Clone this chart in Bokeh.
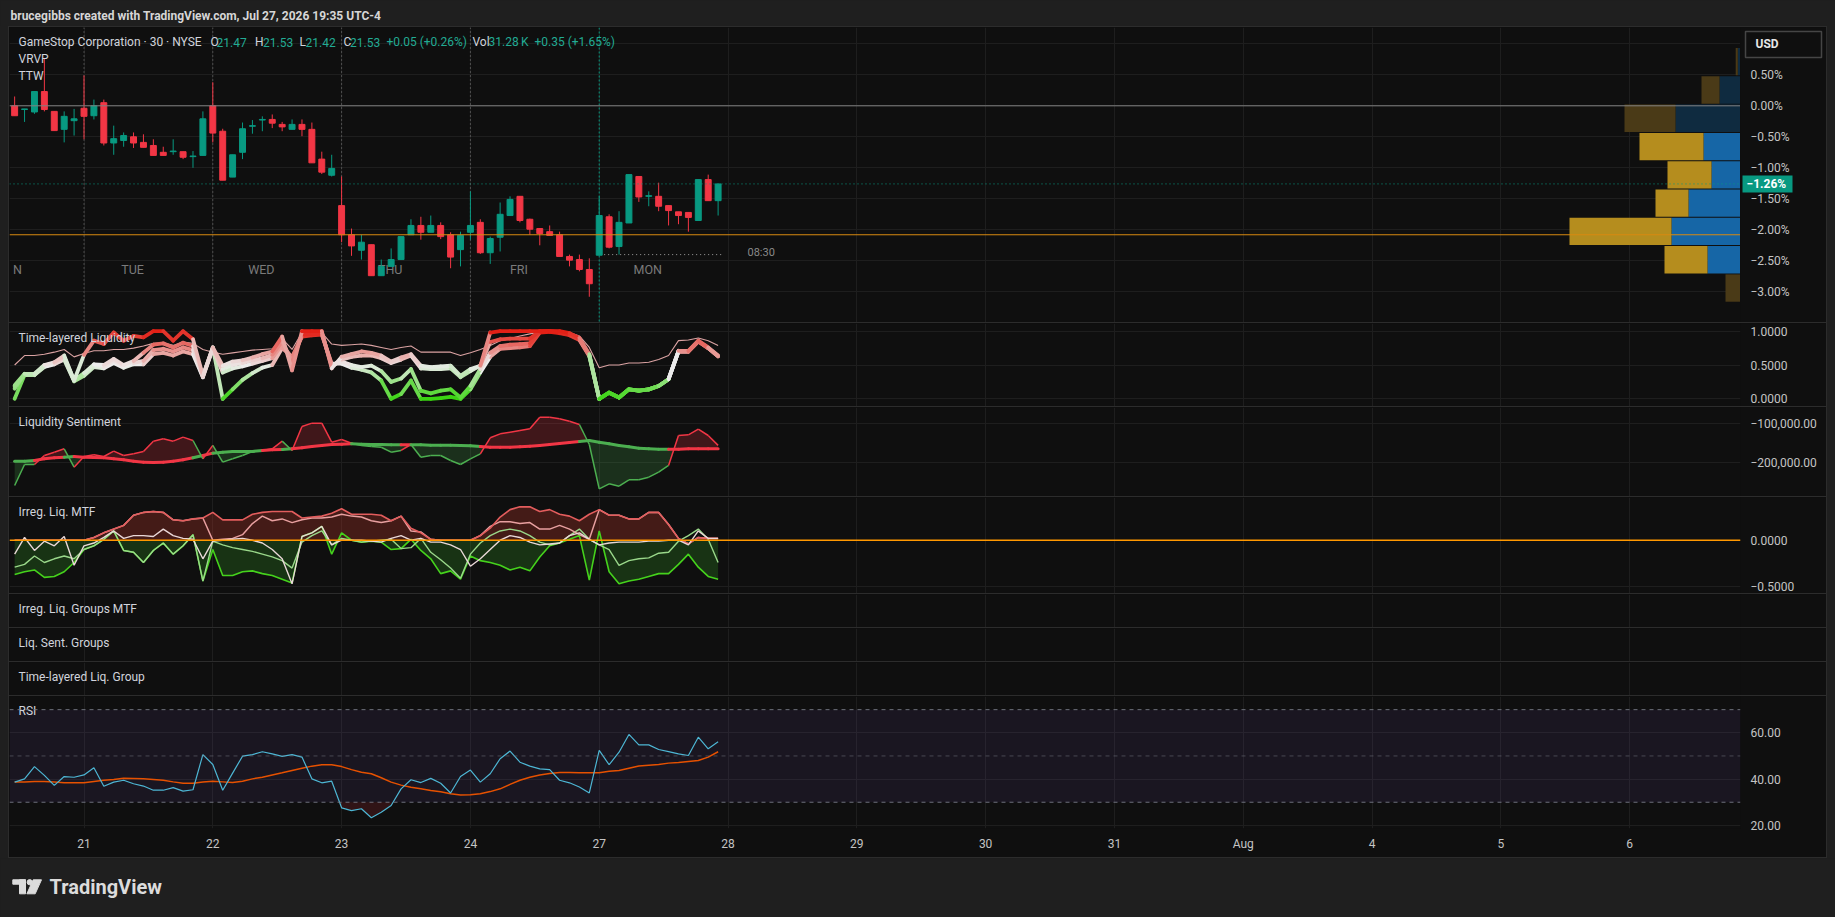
import numpy as np
from bokeh.plotting import figure
from bokeh.models import (Range1d, LinearAxis, FixedTicker, Grid, Span,
                          ColumnDataSource, BoxAnnotation, Spacer)
from bokeh.layouts import column, row
from bokeh.embed import file_html
from bokeh.resources import INLINE
from bokeh.core.properties import value
from bokeh.transform import linear_cmap

# ======================= DATA =======================
bar_index = list(range(-7, 65))          # 30-min bars, 0 = Jul 21 09:30
day_ticks = [0, 13, 26, 39, 52, 65, 78, 91, 104, 117, 130, 143, 156]
day_labels = ["21", "22", "23", "24", "27", "28", "29", "30", "31", "Aug", "4", "5", "6"]
session_starts = [0, 13, 26, 39, 52]
weekday_labels = ["TUE", "WED", "THU", "FRI", "MON"]
first_weekday_tail = "N"      # only the last letter of "MON" (Jul 20) is inside the chart

open_pct = [0.00, -0.06, -0.10, 0.23, -0.09, -0.38, -0.24,
            -0.04, -0.16, 0.05, -0.60, -0.56, -0.50, -0.59, -0.64, -0.75, -0.74, -0.74, -0.82, -0.80,
            0.00, -0.41, -1.15, -0.75, -0.33, -0.23, -0.22, -0.30, -0.38, -0.30, -0.38, -0.86, -1.12,
            -1.61, -2.08, -2.33, -2.24, -2.74, -2.59, -2.48, -2.08, -1.93, -2.04, -1.93, -2.08, -2.32,
            -2.04, -1.88, -2.37, -2.12, -1.77, -1.46, -1.83, -1.98, -2.03, -2.08, -2.43, -2.48, -2.64,
            -2.41, -1.79, -2.27, -1.89, -1.14, -1.46, -1.46, -1.61, -1.71, -1.72, -1.85, -1.19, -1.53]
high_pct = [0.15, -0.05, 0.23, 0.76, -0.09, -0.09, -0.05,
            0.49, 0.10, 0.10, -0.32, -0.43, -0.43, -0.46, -0.54, -0.66, -0.54, -0.74, -0.73, -0.09,
            0.38, -0.37, -0.79, -0.27, -0.23, -0.17, -0.14, -0.26, -0.22, -0.22, -0.27, -0.74, -0.79,
            -1.14, -1.98, -2.08, -2.24, -2.48, -2.30, -2.11, -1.83, -1.79, -1.77, -1.88, -2.04, -2.03,
            -1.38, -1.83, -2.11, -1.56, -1.46, -1.46, -1.82, -1.98, -1.93, -2.03, -2.40, -2.40, -2.46,
            -1.46, -1.75, -1.70, -1.11, -1.14, -1.38, -1.24, -1.61, -1.71, -1.72, -1.19, -1.11, -1.26]
low_pct = [-0.16, -0.26, -0.13, -0.09, -0.40, -0.59, -0.48,
           -0.54, -0.22, -0.64, -0.79, -0.66, -0.68, -0.67, -0.80, -0.80, -0.79, -0.86, -1.00, -0.80,
           -0.59, -1.20, -1.15, -0.86, -0.45, -0.41, -0.36, -0.41, -0.38, -0.49, -0.92, -1.10, -1.14,
           -2.20, -2.42, -2.48, -2.74, -2.74, -2.59, -2.48, -2.08, -2.16, -2.04, -2.15, -2.62, -2.59,
           -2.16, -2.39, -2.55, -2.35, -1.77, -1.88, -2.08, -2.25, -2.09, -2.43, -2.59, -2.67, -3.08,
           -2.41, -2.30, -2.40, -1.89, -1.55, -1.62, -1.70, -1.93, -1.91, -2.03, -1.85, -1.53, -1.77]
close_pct = [-0.16, -0.05, 0.23, -0.06, -0.40, -0.17, -0.21,
             -0.17, 0.00, -0.60, -0.53, -0.48, -0.60, -0.67, -0.80, -0.80, -0.73, -0.83, -0.81, -0.21,
             -0.44, -1.20, -0.79, -0.37, -0.32, -0.22, -0.28, -0.34, -0.30, -0.38, -0.92, -1.07, -1.01,
             -2.08, -2.26, -2.20, -2.74, -2.59, -2.48, -2.11, -1.93, -2.04, -1.93, -2.11, -2.44, -2.09,
             -1.93, -2.37, -2.14, -1.75, -1.51, -1.85, -1.99, -2.06, -2.09, -2.43, -2.49, -2.64, -2.87,
             -1.77, -2.28, -1.88, -1.11, -1.47, -1.45, -1.62, -1.69, -1.77, -1.80, -1.19, -1.53, -1.26]

price_ticks = [0.5, 0.0, -0.5, -1.0, -1.5, -2.0, -2.5, -3.0]
price_tick_labels = ["0.50%", "0.00%", "\u22120.50%", "\u22121.00%", "\u22121.50%",
                     "\u22122.00%", "\u22122.50%", "\u22123.00%"]
price_grid = [1.0, 0.5, 0.0, -0.5, -1.0, -1.5, -2.0, -2.5, -3.0]
baseline_pct = 0.0
poc_pct = -2.08
last_pct = -1.26
last_label = "\u22121.26%"
currency = "USD"
marker_x0, marker_x1, marker_y, marker_text = 52.5, 64.6, -2.40, "08:30"

# Visible-range volume profile (rows top -> bottom)
vp_row_top = [0.932, 0.476, 0.019, -0.437, -0.894, -1.350, -1.806, -2.263, -2.719]
vp_row_bottom = [0.492, 0.035, -0.421, -0.878, -1.334, -1.790, -2.247, -2.703, -3.160]
vp_up = [2.7, 21, 65, 37, 29, 52, 69, 33, 0]
vp_down = [2.1, 18, 51, 64, 44, 33, 102, 43, 15]
vp_in_value_area = [False, False, False, True, True, True, True, True, False]

legend_name = "GameStop Corporation \u00b7 30 \u00b7 NYSE"
legend_items = [("O", "21.47"), ("H", "21.53"), ("L", "21.42"), ("C", "21.53")]
legend_change = "+0.05 (+0.26%)"
legend_vol = "31.28\u2009K"
legend_vol_change = "+0.35 (+1.65%)"

# Time-layered Liquidity (0..1)
tl_1 = [0.20, 0.37, 0.37, 0.50, 0.54, 0.64, 0.27,
        0.65, 0.86, 0.81, 0.98, 0.86, 0.93, 0.91, 1.00, 1.00, 0.86, 1.00, 0.88, 0.34,
        0.76, 0.49, 0.55, 0.57, 0.61, 0.66, 0.70, 0.92, 0.42, 1.00, 1.00, 1.00, 0.45,
        0.62, 0.66, 0.70, 0.68, 0.64, 0.55, 0.61, 0.66, 0.49, 0.47, 0.48, 0.49, 0.34,
        0.44, 0.49, 0.98, 1.00, 1.00, 1.00, 1.00, 1.00, 1.00, 1.00, 0.97, 0.90, 0.66,
        0.00, 0.09, 0.02, 0.14, 0.12, 0.14, 0.19, 0.29, 0.71, 0.71, 0.86, 0.76, 0.64]
tl_2 = [0.18, 0.36, 0.36, 0.49, 0.53, 0.62, 0.27,
        0.38, 0.51, 0.50, 0.59, 0.50, 0.56, 0.68, 0.80, 0.82, 0.76, 0.83, 0.78, 0.34,
        0.75, 0.44, 0.50, 0.53, 0.57, 0.60, 0.65, 0.85, 0.55, 0.95, 0.96, 0.98, 0.48,
        0.58, 0.62, 0.64, 0.64, 0.60, 0.53, 0.58, 0.64, 0.45, 0.44, 0.44, 0.45, 0.32,
        0.41, 0.49, 0.84, 0.88, 0.89, 0.89, 0.89, 1.00, 1.00, 0.99, 0.96, 0.89, 0.65,
        0.00, 0.09, 0.02, 0.14, 0.12, 0.14, 0.19, 0.29, 0.70, 0.70, 0.85, 0.75, 0.63]
tl_3 = [0.15, 0.36, 0.36, 0.48, 0.52, 0.60, 0.27,
        0.36, 0.49, 0.47, 0.56, 0.48, 0.53, 0.56, 0.72, 0.74, 0.70, 0.76, 0.72, 0.32,
        0.74, 0.39, 0.45, 0.48, 0.52, 0.56, 0.60, 0.80, 0.60, 0.93, 0.95, 0.96, 0.50,
        0.55, 0.50, 0.47, 0.49, 0.41, 0.25, 0.30, 0.44, 0.12, 0.08, 0.12, 0.14, 0.02,
        0.19, 0.44, 0.68, 0.78, 0.80, 0.81, 0.82, 0.99, 1.00, 0.98, 0.95, 0.88, 0.64,
        0.00, 0.09, 0.02, 0.14, 0.12, 0.14, 0.19, 0.29, 0.70, 0.70, 0.85, 0.75, 0.63]
tl_4 = [0.00, 0.35, 0.35, 0.47, 0.51, 0.58, 0.26,
        0.34, 0.47, 0.45, 0.53, 0.46, 0.51, 0.51, 0.66, 0.68, 0.64, 0.70, 0.66, 0.32,
        0.76, 0.00, 0.14, 0.28, 0.38, 0.46, 0.50, 0.75, 0.62, 0.92, 0.94, 0.95, 0.52,
        0.52, 0.46, 0.43, 0.39, 0.27, 0.00, 0.07, 0.27, 0.00, 0.00, 0.01, 0.03, 0.00,
        0.14, 0.39, 0.62, 0.74, 0.75, 0.76, 0.78, 0.98, 0.99, 0.97, 0.94, 0.87, 0.63,
        0.00, 0.09, 0.02, 0.14, 0.12, 0.14, 0.19, 0.29, 0.70, 0.70, 0.85, 0.75, 0.63]
tl_thin = [0.50, 0.64, 0.64, 0.66, 0.69, 0.73, 0.62,
           0.67, 0.71, 0.71, 0.73, 0.73, 0.75, 0.78, 0.82, 0.83, 0.79, 0.84, 0.82, 0.73,
           0.69, 0.66, 0.68, 0.70, 0.72, 0.73, 0.74, 0.89, 0.73, 0.98, 0.98, 0.98, 0.81,
           0.79, 0.80, 0.81, 0.79, 0.76, 0.73, 0.76, 0.78, 0.69, 0.69, 0.69, 0.69, 0.64,
           0.68, 0.73, 0.79, 0.86, 0.89, 0.93, 0.96, 0.99, 1.00, 1.00, 0.98, 0.93, 0.76,
           0.46, 0.50, 0.50, 0.53, 0.53, 0.54, 0.58, 0.64, 0.86, 0.87, 0.90, 0.86, 0.79]

# Liquidity Sentiment (thousands)
sent_fast_k = [-258.5, -205.1, -205.1, -182.2, -173.7, -165.2, -211.8,
               -184.7, -180.5, -184.7, -171.1, -182.2, -177.9, -172.0, -145.7, -139.8, -145.7, -135.5, -144.0, -190.6,
               -156.5, -199.1, -190.6, -182.2, -172.0, -169.4, -165.2, -145.7, -169.4, -108.4, -99.9, -99.9, -148.3,
               -141.6, -150.9, -156.5, -159.4, -161.1, -173.7, -169.4, -154.2, -186.5, -182.2, -182.2, -195.0, -205.1,
               -190.6, -177.9, -137.2, -127.1, -122.8, -118.6, -114.4, -84.7, -84.7, -88.9, -94.9, -103.3, -154.2,
               -267.0, -254.3, -260.2, -244.1, -244.1, -237.3, -224.6, -207.6, -131.3, -129.6, -115.2, -131.3, -156.5]
sent_slow_k = [-196.6, -196.6, -194.9, -190.6, -188.1, -186.4, -184.7,
               -186.4, -187.3, -188.1, -190.6, -193.2, -196.6, -199.1, -199.9, -199.1, -196.6, -193.2, -188.1, -182.2,
               -176.2, -173.7, -172.0, -172.0, -172.0, -169.4, -167.7, -166.9, -165.2, -162.7, -159.3, -156.8, -154.2,
               -153.4, -152.5, -153.4, -154.2, -154.2, -155.1, -155.1, -155.1, -155.1, -155.9, -155.9, -155.9, -156.8,
               -157.6, -159.3, -161.0, -161.0, -161.0, -160.1, -158.4, -156.8, -154.2, -151.7, -149.1, -146.6, -144.0,
               -148.3, -152.5, -156.8, -160.1, -163.5, -165.2, -166.1, -166.1, -166.1, -165.2, -165.2, -165.2, -165.2]

# Irregular Liquidity MTF
irr_red = [0.00, 0.00, 0.00, 0.00, 0.00, 0.00, 0.00,
           0.00, 0.03, 0.08, 0.12, 0.16, 0.27, 0.30, 0.31, 0.30, 0.22, 0.21, 0.23, 0.24,
           0.30, 0.22, 0.22, 0.22, 0.28, 0.30, 0.31, 0.31, 0.31, 0.24, 0.25, 0.26, 0.29,
           0.34, 0.28, 0.28, 0.28, 0.27, 0.21, 0.26, 0.13, 0.08, 0.01, 0.00, 0.00, 0.00,
           0.00, 0.05, 0.13, 0.25, 0.33, 0.36, 0.36, 0.31, 0.33, 0.28, 0.26, 0.21, 0.28,
           0.33, 0.27, 0.27, 0.23, 0.23, 0.30, 0.30, 0.17, 0.02, -0.04, 0.03, 0.02, 0.02]
irr_pink = [0.00, 0.00, 0.00, 0.00, 0.00, 0.00, 0.00,
            0.00, 0.03, 0.08, 0.12, 0.16, 0.27, 0.30, 0.31, 0.30, 0.22, 0.21, 0.23, 0.24,
            0.00, 0.01, 0.02, 0.06, 0.18, 0.26, 0.21, 0.23, 0.19, 0.22, 0.24, 0.24, 0.25,
            0.28, 0.26, 0.25, 0.21, 0.19, 0.21, 0.26, 0.10, 0.09, 0.01, 0.00, 0.00, 0.00,
            0.00, 0.05, 0.15, 0.20, 0.20, 0.18, 0.19, 0.12, 0.12, 0.16, 0.12, 0.06, 0.01,
            0.33, 0.27, 0.27, 0.23, 0.23, 0.30, 0.30, 0.17, 0.02, -0.04, 0.03, 0.02, 0.02]
irr_white = [-0.15, 0.03, -0.11, -0.01, -0.06, 0.04, -0.27,
             -0.06, -0.03, 0.03, 0.10, 0.02, 0.05, 0.05, 0.04, 0.12, 0.05, 0.02, 0.01, -0.20,
             -0.01, 0.00, 0.01, 0.02, 0.00, -0.03, -0.10, -0.20, -0.47, 0.04, 0.08, 0.15, -0.05,
             0.00, 0.00, 0.00, -0.01, -0.02, 0.02, 0.05, 0.00, 0.02, -0.02, -0.02, -0.05, -0.10,
             -0.28, -0.20, -0.10, 0.00, 0.05, 0.03, -0.02, -0.05, -0.04, -0.03, 0.05, 0.08, 0.01,
             -0.05, -0.03, -0.02, -0.02, -0.02, -0.01, -0.01, 0.00, 0.00, -0.05, 0.10, 0.02, 0.02]
irr_lightgreen = [-0.29, -0.26, -0.17, -0.24, -0.20, -0.17, -0.20,
                  -0.10, -0.06, 0.01, 0.10, -0.11, -0.13, -0.24, -0.11, -0.03, -0.15, -0.06, 0.06, -0.44,
                  -0.01, -0.05, -0.08, -0.10, -0.12, -0.15, -0.18, -0.22, -0.30, -0.02, 0.05, 0.10, -0.05,
                  0.02, 0.00, -0.02, -0.01, 0.00, 0.01, -0.09, -0.08, 0.02, -0.13, -0.21, -0.30, -0.41,
                  -0.15, -0.03, 0.05, 0.10, 0.12, 0.10, 0.05, -0.02, -0.05, -0.03, 0.05, 0.12, 0.01,
                  -0.05, -0.10, -0.27, -0.22, -0.20, -0.19, -0.14, -0.13, -0.01, 0.05, 0.12, 0.01, -0.24]
irr_green = [-0.37, -0.34, -0.32, -0.40, -0.39, -0.34, -0.24,
             -0.10, -0.06, 0.01, 0.10, -0.11, -0.13, -0.24, -0.11, -0.03, -0.15, -0.06, 0.06, -0.44,
             -0.10, -0.38, -0.38, -0.34, -0.33, -0.36, -0.38, -0.42, -0.46, 0.04, 0.08, 0.15, -0.15,
             0.08, 0.00, -0.02, -0.01, -0.02, -0.10, -0.09, 0.01, -0.11, -0.20, -0.36, -0.33, -0.42,
             -0.17, -0.22, -0.24, -0.27, -0.32, -0.29, -0.33, -0.18, -0.06, -0.03, 0.01, 0.05, -0.43,
             0.10, -0.34, -0.47, -0.44, -0.42, -0.39, -0.36, -0.36, -0.26, -0.15, -0.29, -0.39, -0.42]

# RSI (14) and its moving average
rsi = [38.7, 40.1, 45.4, 41.6, 37.3, 41.1, 40.8,
       41.8, 44.9, 36.9, 38.7, 39.5, 38.0, 37.0, 35.2, 35.2, 36.3, 34.8, 35.4, 50.6,
       46.3, 35.2, 42.6, 49.9, 50.6, 51.8, 50.9, 49.8, 50.6, 49.5, 40.1, 38.4, 39.1,
       27.6, 26.4, 27.2, 23.3, 25.7, 28.6, 35.8, 39.7, 38.5, 40.3, 38.2, 34.0, 41.1,
       43.9, 38.7, 42.3, 48.8, 52.1, 47.3, 45.6, 44.4, 44.1, 39.5, 38.4, 36.6, 34.0,
       52.4, 46.2, 51.6, 59.3, 54.8, 54.8, 52.8, 51.9, 50.9, 50.2, 58.1, 53.1, 56.1]
rsi_ma = [38.7, 38.8, 39.0, 39.0, 38.7, 38.4, 38.4,
          38.4, 39.0, 39.5, 39.8, 40.4, 40.3, 40.1, 39.8, 39.5, 38.8, 38.2, 38.2, 38.7,
          39.1, 38.8, 38.5, 39.1, 40.1, 40.8, 41.8, 42.7, 43.7, 44.7, 45.6, 46.2, 46.2,
          45.4, 44.1, 43.0, 42.3, 40.6, 38.7, 37.4, 36.5, 35.8, 35.1, 34.5, 33.7, 33.1,
          33.2, 33.7, 34.6, 35.8, 37.7, 39.5, 40.8, 41.8, 42.4, 42.9, 42.9, 42.7, 42.7,
          42.7, 43.4, 43.7, 44.7, 45.7, 46.0, 46.3, 46.9, 47.2, 47.6, 48.0, 49.5, 51.8]

N = len(bar_index)
for arr in (open_pct, high_pct, low_pct, close_pct, tl_1, tl_2, tl_3, tl_4, tl_thin,
            sent_fast_k, sent_slow_k, irr_red, irr_pink, irr_white, irr_lightgreen, irr_green,
            rsi, rsi_ma):
    assert len(arr) == N, len(arr)

# ======================= STYLE / LAYOUT =======================
BG = "#0f0f0f"
OUTER = "#1f1f1f"
SEP = "#2c2c2c"
GRID = "#1e1e1e"
TXT = "#d1d4dc"
AXT = "#c4c4c4"
UP = "#089981"
DN = "#f23645"
FONT = "Roboto"
FS = "12px"

PAGE_W = 1835
INNER_W = PAGE_W - 18          # 8px outer margin + 1px frame border on each side
AXW = 86
FRAME_W = INNER_W - AXW        # 1731
PX_PER_BAR = 9.908
X_START = -74.5 / PX_PER_BAR
X_END = X_START + FRAME_W / PX_PER_BAR
xr = Range1d(X_START, X_END)
FRAME_H = {}


def px2x(ref_px):
    return X_START + (ref_px - 9) / PX_PER_BAR


def base_fig(w, h, y_range, right=0, bottom=0):
    p = figure(width=w, height=h, x_range=xr, y_range=y_range,
               output_backend="svg", toolbar_location=None,
               x_axis_location=None, y_axis_location=None,
               min_border_left=0, min_border_right=right, min_border_top=0, min_border_bottom=bottom,
               background_fill_color=BG, border_fill_color=BG, outline_line_color=None,
               styles={"background-color": BG})
    p.xgrid.visible = False
    p.ygrid.visible = False
    return p


def pane(h, y0, y1, ticks=None, labels=None, grid_ticks=None, xaxis=False, width=INNER_W, right=AXW):
    p = base_fig(width, h + (29 if xaxis else 0), Range1d(y0, y1), right=right,
                 bottom=(29 if xaxis else 0))
    p.add_layout(Grid(dimension=0, ticker=FixedTicker(ticks=day_ticks), grid_line_color=GRID))
    if grid_ticks:
        p.add_layout(Grid(dimension=1, ticker=FixedTicker(ticks=grid_ticks), grid_line_color=GRID))
    if ticks:
        ax = LinearAxis(ticker=FixedTicker(ticks=ticks),
                        major_label_overrides=dict(zip(ticks, labels)),
                        axis_line_color=None, major_tick_line_color=None, minor_tick_line_color=None,
                        major_tick_out=0, major_tick_in=0, major_label_standoff=10,
                        major_label_text_color=AXT, major_label_text_font=FONT,
                        major_label_text_font_size=FS)
        p.add_layout(ax, "right")
    if xaxis:
        bx = LinearAxis(ticker=FixedTicker(ticks=day_ticks),
                        major_label_overrides=dict(zip(day_ticks, day_labels)),
                        axis_line_color=None, major_tick_line_color=None, minor_tick_line_color=None,
                        major_tick_out=0, major_tick_in=0, major_label_standoff=8,
                        major_label_text_color=AXT, major_label_text_font=FONT,
                        major_label_text_font_size=FS)
        p.add_layout(bx, "below")
    FRAME_H[p.id] = h
    return p


def title(p, text, color=TXT):
    yr = p.y_range
    y = yr.end - 14.5 * (yr.end - yr.start) / FRAME_H[p.id]
    p.text(x=[px2x(18)], y=[y], text=[text], text_font=value(FONT), text_font_size=value(FS),
           text_color=color, text_baseline="middle", text_align="left")


def fill_runs(xs, a, b):
    P = []
    for i in range(len(xs)):
        if i > 0:
            d0 = a[i - 1] - b[i - 1]
            d1 = a[i] - b[i]
            if d0 * d1 < 0:
                t = d0 / (d0 - d1)
                xc = xs[i - 1] + t * (xs[i] - xs[i - 1])
                yc = a[i - 1] + t * (a[i] - a[i - 1])
                P.append((xc, yc, yc))
        P.append((xs[i], a[i], b[i]))
    out = {True: ([], []), False: ([], [])}

    def flush(run, s):
        if s is None or len(run) < 2:
            return
        out[s][0].append([q[0] for q in run] + [q[0] for q in reversed(run)])
        out[s][1].append([q[1] for q in run] + [q[2] for q in reversed(run)])

    run = [P[0]]
    sign = None
    for k in range(1, len(P)):
        s = (P[k - 1][1] + P[k][1]) - (P[k - 1][2] + P[k][2]) > 0
        if sign is None:
            sign = s
        if s != sign:
            flush(run, sign)
            run = [P[k - 1]]
            sign = s
        run.append(P[k])
    flush(run, sign)
    return out


def plain_fig(w, h):
    p = figure(width=w, height=h, x_range=Range1d(0, w), y_range=Range1d(0, h),
               output_backend="svg", toolbar_location=None, x_axis_location=None, y_axis_location=None,
               min_border=0, background_fill_color=OUTER, border_fill_color=OUTER, outline_line_color=None,
               styles={"background-color": OUTER})
    p.xgrid.visible = False
    p.ygrid.visible = False
    return p


# ---------------- header ----------------
hdr = plain_fig(PAGE_W, 26)
hdr.text(x=[10], y=[11], text=["brucegibbs created with TradingView.com, Jul 27, 2026 19:35 UTC-4"],
         text_font=value(FONT), text_font_size=value("12px"), text_font_style="bold",
         text_color="#d6d6d6", text_baseline="middle")

# ---------------- main price pane ----------------
main = pane(295, -3.4952, 1.2629, None, None, price_grid, width=FRAME_W, right=0)

main.text(x=[d + 4.9 for d in session_starts], y=[-2.64] * len(session_starts), text=weekday_labels,
          text_font=value(FONT), text_font_size=value("12.5px"), text_color="#7a7a7a",
          text_baseline="middle", text_align="center")
main.text(x=[px2x(12.5)], y=[-2.64], text=[first_weekday_tail], text_font=value(FONT),
          text_font_size=value("12.5px"), text_color="#7a7a7a", text_baseline="middle", text_align="left")

for d in session_starts:
    last = d == session_starts[-1]
    main.add_layout(Span(location=d, dimension="height", line_color=UP if last else "#808080",
                         line_width=1, line_dash="2 2" if last else "1 3", level="underlay"))

main.add_layout(Span(location=baseline_pct, dimension="width", line_color="#808080", line_width=1))
main.add_layout(Span(location=poc_pct, dimension="width", line_color="#d88a10", line_width=1.2))
main.add_layout(Span(location=last_pct, dimension="width", line_color=UP, line_width=1, line_dash="1 3"))

# volume profile (widths from the right edge)
main.extra_x_ranges = {"vp": Range1d(start=FRAME_W, end=0)}
vp_src = ColumnDataSource(dict(
    y=[(t + b) / 2 for t, b in zip(vp_row_top, vp_row_bottom)],
    h=[t - b for t, b in zip(vp_row_top, vp_row_bottom)],
    up=vp_up, tot=[u + d for u, d in zip(vp_up, vp_down)],
    zero=[0] * len(vp_up),
    cu=["#1666a6" if va else "#0f2b40" for va in vp_in_value_area],
    cd=["#b58d1e" if va else "#4a3a17" for va in vp_in_value_area]))
main.hbar(y="y", height="h", left="zero", right="up", fill_color="cu", line_color=None,
          source=vp_src, x_range_name="vp")
main.hbar(y="y", height="h", left="up", right="tot", fill_color="cd", line_color=None,
          source=vp_src, x_range_name="vp")

# 08:30 marker
main.segment(x0=[marker_x0], y0=[marker_y], x1=[marker_x1], y1=[marker_y], line_color="#a0a0a0",
             line_dash="1 3", line_width=1)
main.text(x=[px2x(747)], y=[marker_y + 0.04], text=[marker_text], text_font=value(FONT),
          text_font_size=value("11px"), text_color="#8a8a8a", text_baseline="middle")

# candles
ccol = [UP if c >= o else DN for o, c in zip(open_pct, close_pct)]
csrc = ColumnDataSource(dict(x=bar_index, o=open_pct, h=high_pct, l=low_pct, c=close_pct,
                             top=[max(o, c) for o, c in zip(open_pct, close_pct)],
                             bot=[min(o, c) for o, c in zip(open_pct, close_pct)], col=ccol))
main.segment(x0="x", y0="l", x1="x", y1="h", line_color="col", line_width=1, source=csrc)
main.vbar(x="x", width=0.6, top="top", bottom="bot", fill_color="col", line_color="col",
          line_width=1, source=csrc)

# legend
yspan = main.y_range.end - main.y_range.start
ly = main.y_range.end - 14.7 * yspan / 295
lx, lt, lc = [px2x(18)], [legend_name], [TXT]
pos = [(210, 216), (254.5, 262.5), (299, 305), (343, 349.6)]
for (k, v), (xa, xb) in zip(legend_items, pos):
    lx += [px2x(xa), px2x(xb)]
    lt += [k, v]
    lc += [TXT, "#22ab94"]
lx += [px2x(386), px2x(472), px2x(488), px2x(534)]
lt += [legend_change, "Vol", legend_vol, legend_vol_change]
lc += ["#22ab94", TXT, "#22ab94", "#22ab94"]
main.text(x=lx, y=[ly] * len(lx), text=lt, text_color=lc, text_font=value(FONT),
          text_font_size=value(FS), text_baseline="middle")
ystep = 16.9 * yspan / 295
main.text(x=[px2x(18)] * 2, y=[ly - ystep, ly - 2 * ystep], text=["VRVP", "TTW"], text_color=TXT,
          text_font=value(FONT), text_font_size=value(FS), text_baseline="middle")

# price scale of the main pane (shares the main y scale)
scale = figure(width=AXW, height=295, x_range=Range1d(0, AXW), y_range=main.y_range,
               output_backend="svg", toolbar_location=None, x_axis_location=None, y_axis_location=None,
               min_border=0, background_fill_color=BG, border_fill_color=BG, outline_line_color=None,
               styles={"background-color": BG})
scale.xgrid.visible = False
scale.ygrid.visible = False
scale.text(x=[10] * len(price_ticks), y=price_ticks, text=price_tick_labels, text_color=AXT,
           text_font=value(FONT), text_font_size=value(FS), text_baseline="middle")
px_pct = yspan / 295
scale.quad(left=[5], right=[81], top=[0.989 + 13 * px_pct], bottom=[0.989 - 13 * px_pct],
           fill_color=BG, line_color="#454545", line_width=1.5)
scale.text(x=[15], y=[0.989], text=[currency], text_color="#e6e6e6", text_font=value(FONT),
           text_font_size=value("12px"), text_font_style="bold", text_baseline="middle")
scale.quad(left=[2], right=[52], top=[last_pct + 8.5 * px_pct], bottom=[last_pct - 8.5 * px_pct],
           fill_color=UP, line_color=None)
scale.text(x=[6], y=[last_pct], text=[last_label], text_color="#ffffff", text_font=value(FONT),
           text_font_size=value("12px"), text_font_style="bold", text_baseline="middle")

# ---------------- Time-layered Liquidity ----------------
def mix(c1, c2, t):
    return tuple(int(round(a + (b - a) * t)) for a, b in zip(c1, c2))


GREEN, WHITE, RED = (58, 212, 18), (236, 236, 236), (226, 32, 22)
tl_palette = []
for k in range(41):
    t = k / 40
    c = mix(GREEN, WHITE, t * 2) if t <= 0.5 else mix(WHITE, RED, (t - 0.5) * 2)
    tl_palette.append("#%02x%02x%02x" % c)

tl = pane(83, -0.1139, 1.1139, [1.0, 0.5, 0.0], ["1.0000", "0.5000", "0.0000"], [1.0, 0.5, 0.0])
tl.line(bar_index, tl_thin, line_color="#dba3a3", line_width=1.1)
for ser in (tl_4, tl_3, tl_2, tl_1):
    s = ColumnDataSource(dict(x0=bar_index[:-1], x1=bar_index[1:], y0=ser[:-1], y1=ser[1:],
                              v=[(a + b) / 2 for a, b in zip(ser[:-1], ser[1:])]))
    tl.segment(x0="x0", y0="y0", x1="x1", y1="y1", source=s, line_width=3.8, line_cap="round",
               line_color=linear_cmap("v", tl_palette, 0, 1))
title(tl, "Time-layered Liquidity")

# ---------------- Liquidity Sentiment ----------------
fast = [v * 1000 for v in sent_fast_k]
slow = [v * 1000 for v in sent_slow_k]
ls = pane(89, -286512, -60051, [-100000, -200000], ["\u2212100,000.00", "\u2212200,000.00"],
          [-100000, -200000])
fr = fill_runs(bar_index, fast, slow)
if fr[True][0]:
    ls.patches(xs=fr[True][0], ys=fr[True][1], fill_color=DN, fill_alpha=0.22, line_color=None)
if fr[False][0]:
    ls.patches(xs=fr[False][0], ys=fr[False][1], fill_color="#4caf50", fill_alpha=0.21, line_color=None)
scol = [DN if fast[i + 1] > slow[i + 1] else "#4caf50" for i in range(N - 1)]
ss = ColumnDataSource(dict(x0=bar_index[:-1], x1=bar_index[1:], f0=fast[:-1], f1=fast[1:],
                           s0=slow[:-1], s1=slow[1:], c=scol))
ls.segment(x0="x0", y0="f0", x1="x1", y1="f1", line_color="c", line_width=1.5, source=ss)
ls.segment(x0="x0", y0="s0", x1="x1", y1="s1", line_color="c", line_width=3, line_cap="round", source=ss)
title(ls, "Liquidity Sentiment")

# ---------------- Irreg. Liq. MTF ----------------
ir = pane(96, -0.574, 0.4606, [0.0, -0.5], ["0.0000", "\u22120.5000"], [0.0, -0.5])
zeros = [0.0] * N
rr = fill_runs(bar_index, irr_red, zeros)
if rr[True][0]:
    ir.patches(xs=rr[True][0], ys=rr[True][1], fill_color="#c0392b", fill_alpha=0.30, line_color=None)
gg = fill_runs(bar_index, irr_green, zeros)
if gg[False][0]:
    ir.patches(xs=gg[False][0], ys=gg[False][1], fill_color="#3cb428", fill_alpha=0.22, line_color=None)
ir.add_layout(Span(location=0, dimension="width", line_color="#ff9800", line_width=1.5))
ir.line(bar_index, irr_green, line_color="#45d21c", line_width=1.6)
ir.line(bar_index, irr_lightgreen, line_color="#9ad88a", line_width=1.4)
ir.line(bar_index, irr_pink, line_color="#e8a0a0", line_width=1.5)
ir.line(bar_index, irr_red, line_color="#e35d5d", line_width=1.6)
ir.line(bar_index, irr_white, line_color="#ead8d8", line_width=1.4)
title(ir, "Irreg. Liq. MTF")

# ---------------- empty group panes ----------------
g1 = pane(33, 0, 1)
title(g1, "Irreg. Liq. Groups MTF")
g2 = pane(33, 0, 1)
title(g2, "Liq. Sent. Groups")
g3 = pane(33, 0, 1)
title(g3, "Time-layered Liq. Group")

# ---------------- RSI ----------------
rp = pane(132, 18.66, 75.68, [60, 40, 20], ["60.00", "40.00", "20.00"], [60, 40, 20], xaxis=True)
rp.add_layout(BoxAnnotation(bottom=30, top=70, fill_color="#7e57c2", fill_alpha=0.1, line_color=None,
                            level="underlay"))
for lvl, al in ((70, 0.9), (50, 0.5), (30, 0.9)):
    rp.add_layout(Span(location=lvl, dimension="width", line_color="#787b86", line_alpha=al,
                       line_dash="4 4", line_width=1))
os_ = fill_runs(bar_index, rsi, [30.0] * N)
if os_[False][0]:
    rp.patches(xs=os_[False][0], ys=os_[False][1], fill_color=DN, fill_alpha=0.15, line_color=None)
rp.line(bar_index, rsi_ma, line_color="#e65100", line_width=1.5)
rp.line(bar_index, rsi, line_color="#4db6d4", line_width=1.2)
title(rp, "RSI")

# ---------------- footer ----------------
ftr = plain_fig(PAGE_W, 59)
LOGO = "#dcdcdc"
ftr.quad(left=[12.3, 19], right=[25, 25], top=[37.7, 37.7], bottom=[33.3, 23.7], color=LOGO)
ftr.circle(x=[29.2], y=[35.3], radius=2.6, color=LOGO)
ftr.patch(x=[32.7, 41, 34.7, 26.4], y=[37.7, 37.7, 23.7, 23.7], color=LOGO)
ftr.text(x=[49], y=[31], text=["TradingView"], text_font=value(FONT), text_font_size=value("20px"),
         text_font_style="bold", text_color=LOGO, text_baseline="middle")


def hsep():
    return Spacer(width=INNER_W, height=1, styles={"background-color": SEP})


inner = column(hsep(), row(main, scale, spacing=0), hsep(), tl, hsep(), ls, hsep(), ir, hsep(),
               g1, hsep(), g2, hsep(), g3, hsep(), rp, hsep(), spacing=0)
INNER_H = 832


def vstrip(w, color):
    return Spacer(width=w, height=INNER_H, styles={"background-color": color})


body = row(vstrip(8, OUTER), vstrip(1, SEP), inner, vstrip(1, SEP), vstrip(8, OUTER), spacing=0)
layout = column(hdr, body, ftr, spacing=0)

html = file_html(layout, INLINE)
html = html.replace("<body>", '<body style="background-color:#1f1f1f;">', 1)
open("out.html", "w").write(html)
